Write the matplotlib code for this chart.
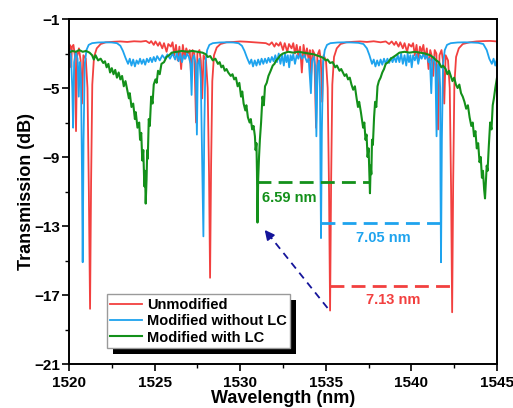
import numpy as np
import matplotlib
matplotlib.use("Agg")
import matplotlib.pyplot as plt
from matplotlib.patches import Rectangle

plt.rcParams['font.family'] = ['Liberation Sans', 'DejaVu Sans']
plt.rcParams['font.weight'] = 'bold'

# --- data (wavelength nm, transmission dB) ---
unmod_pts = [
    (1520.00, -2.8), (1520.05, -2.5), (1520.10, -2.7), (1520.13, -3.8), (1520.17, -2.6),
    (1520.26, -2.5), (1520.34, -3.1), (1520.41, -7.5), (1520.47, -3.2), (1520.58, -2.7),
    (1520.68, -3.4), (1520.76, -5.9), (1520.84, -3.1), (1520.98, -3.3), (1521.08, -5.0),
    (1521.16, -11.0), (1521.23, -17.8), (1521.29, -10.5), (1521.36, -4.8), (1521.46, -3.2),
    (1521.62, -2.7), (1521.85, -2.45), (1522.15, -2.35), (1522.6, -2.32), (1523.0, -2.30),
    (1523.4, -2.33), (1523.8, -2.29), (1524.2, -2.31), (1524.5, -2.27), (1524.7, -2.4),
    (1524.8, -2.28), (1524.95, -2.5), (1525.05, -2.3), (1525.2, -2.55), (1525.3, -2.35),
    (1525.45, -2.7), (1525.55, -2.4), (1525.7, -2.9), (1525.8, -2.45), (1525.95, -2.6),
    (1526.05, -2.35), (1526.15, -3.1), (1526.25, -2.5), (1526.35, -3.4), (1526.45, -2.6),
    (1526.55, -3.9), (1526.65, -2.5), (1526.75, -3.3), (1526.85, -2.7), (1526.95, -3.0),
    (1527.05, -2.8), (1527.13, -4.2), (1527.22, -2.8), (1527.32, -3.0), (1527.42, -7.0),
    (1527.50, -3.0), (1527.62, -2.8), (1527.70, -3.4), (1527.78, -5.6), (1527.86, -3.1),
    (1528.00, -3.4), (1528.10, -5.0), (1528.18, -10.0), (1528.24, -16.0), (1528.30, -9.5),
    (1528.37, -4.6), (1528.47, -3.1), (1528.63, -2.65), (1528.85, -2.45), (1529.2, -2.35),
    (1529.6, -2.33), (1530.0, -2.30), (1530.4, -2.32), (1530.8, -2.35), (1531.2, -2.38),
    (1531.5, -2.4), (1531.7, -2.5), (1531.85, -2.35), (1532.0, -2.6), (1532.1, -2.4),
    (1532.25, -2.55), (1532.35, -2.35), (1532.5, -2.8), (1532.6, -2.4), (1532.75, -2.9),
    (1532.85, -2.45), (1533.0, -2.7), (1533.1, -2.4), (1533.2, -3.0), (1533.3, -2.5),
    (1533.4, -3.2), (1533.5, -2.6), (1533.6, -4.1), (1533.7, -2.5), (1533.8, -3.2),
    (1533.9, -2.7), (1534.0, -3.4), (1534.07, -2.8), (1534.14, -4.3), (1534.23, -2.8),
    (1534.33, -3.0), (1534.43, -7.3), (1534.51, -3.1), (1534.63, -2.8), (1534.71, -3.4),
    (1534.79, -5.8), (1534.87, -3.1), (1535.01, -3.4), (1535.11, -5.0), (1535.19, -11.0),
    (1535.25, -17.9), (1535.31, -10.5), (1535.38, -4.8), (1535.48, -3.2), (1535.64, -2.7),
    (1535.86, -2.45), (1536.2, -2.35), (1536.6, -2.32), (1537.0, -2.30), (1537.4, -2.33),
    (1537.8, -2.29), (1538.2, -2.35), (1538.5, -2.3), (1538.7, -2.45), (1538.85, -2.3),
    (1539.0, -2.5), (1539.1, -2.32), (1539.25, -2.6), (1539.35, -2.35), (1539.5, -2.7),
    (1539.6, -2.4), (1539.75, -2.9), (1539.85, -2.45), (1540.0, -2.6), (1540.1, -2.4),
    (1540.2, -3.1), (1540.3, -2.5), (1540.4, -3.4), (1540.5, -2.6), (1540.6, -2.9),
    (1540.7, -2.5), (1540.8, -3.3), (1540.9, -2.7), (1541.0, -3.9), (1541.1, -2.8),
    (1541.18, -3.1), (1541.27, -4.3), (1541.36, -2.8), (1541.46, -3.0), (1541.56, -7.4),
    (1541.64, -3.1), (1541.76, -2.8), (1541.84, -3.4), (1541.92, -5.9), (1542.0, -3.1),
    (1542.14, -3.4), (1542.24, -5.0), (1542.32, -11.0), (1542.38, -18.0), (1542.44, -10.5),
    (1542.51, -4.8), (1542.61, -3.2), (1542.77, -2.7), (1543.0, -2.45), (1543.4, -2.35),
    (1543.8, -2.3), (1544.2, -2.28), (1544.6, -2.27), (1545.0, -2.3),
]

no_lc_pts = [
    (1520.00, -2.9), (1520.06, -2.8), (1520.12, -3.2), (1520.19, -5.0), (1520.24, -7.3),
    (1520.30, -3.5), (1520.40, -2.9), (1520.50, -3.3), (1520.57, -5.5), (1520.63, -3.5),
    (1520.70, -4.5), (1520.76, -10.0), (1520.80, -15.1), (1520.85, -8.0), (1520.92, -3.6),
    (1521.02, -2.8), (1521.15, -2.5), (1521.35, -2.4), (1521.7, -2.36), (1522.1, -2.35),
    (1522.5, -2.36), (1522.8, -2.4), (1523.0, -2.55), (1523.15, -2.85), (1523.3, -3.25),
    (1523.45, -3.6), (1523.55, -3.3), (1523.65, -3.7), (1523.75, -3.35), (1523.85, -3.75),
    (1523.95, -3.4), (1524.05, -3.6), (1524.15, -3.3), (1524.25, -3.6), (1524.35, -3.35),
    (1524.45, -3.65), (1524.55, -3.3), (1524.65, -3.5), (1524.75, -3.25), (1524.85, -3.5),
    (1524.95, -3.2), (1525.05, -3.45), (1525.15, -3.15), (1525.3, -3.4), (1525.45, -3.1),
    (1525.6, -3.3), (1525.75, -3.05), (1525.9, -3.3), (1526.05, -3.0), (1526.2, -3.35),
    (1526.3, -2.95), (1526.4, -3.45), (1526.5, -3.0), (1526.6, -3.5), (1526.7, -3.1),
    (1526.8, -3.3), (1526.9, -3.0), (1527.0, -3.2), (1527.1, -3.6), (1527.16, -5.4),
    (1527.22, -3.3), (1527.30, -3.1), (1527.40, -3.6), (1527.47, -7.7), (1527.53, -3.6),
    (1527.62, -3.3), (1527.70, -4.5), (1527.78, -9.5), (1527.85, -13.6), (1527.90, -7.5),
    (1527.97, -3.5), (1528.07, -2.8), (1528.2, -2.5), (1528.4, -2.4), (1528.8, -2.36),
    (1529.2, -2.35), (1529.6, -2.36), (1529.9, -2.4), (1530.1, -2.55), (1530.25, -2.85),
    (1530.4, -3.25), (1530.55, -3.6), (1530.65, -3.35), (1530.75, -3.75), (1530.85, -3.4),
    (1530.95, -3.7), (1531.05, -3.35), (1531.15, -3.65), (1531.25, -3.3), (1531.35, -3.6),
    (1531.45, -3.3), (1531.55, -3.55), (1531.65, -3.25), (1531.75, -3.5), (1531.85, -3.2),
    (1531.95, -3.45), (1532.05, -3.1), (1532.15, -3.5), (1532.25, -3.0), (1532.35, -3.6),
    (1532.45, -3.1), (1532.55, -3.7), (1532.62, -3.0), (1532.7, -3.5), (1532.78, -3.1),
    (1532.86, -3.8), (1532.94, -3.1), (1533.02, -3.4), (1533.1, -3.05), (1533.2, -3.6),
    (1533.3, -3.1), (1533.4, -3.3), (1533.5, -3.0), (1533.6, -3.3), (1533.75, -3.1),
    (1533.9, -3.5), (1534.0, -3.3), (1534.13, -5.3), (1534.2, -3.4), (1534.3, -3.2),
    (1534.38, -3.7), (1534.45, -7.8), (1534.52, -3.7), (1534.6, -3.4), (1534.66, -5.0),
    (1534.69, -10.0), (1534.72, -13.7), (1534.77, -7.5), (1534.84, -3.5), (1534.94, -2.8),
    (1535.07, -2.5), (1535.27, -2.4), (1535.7, -2.36), (1536.1, -2.35), (1536.5, -2.36),
    (1536.9, -2.38), (1537.2, -2.45), (1537.4, -2.7), (1537.55, -3.1), (1537.7, -3.6),
    (1537.8, -3.35), (1537.9, -3.75), (1538.0, -3.4), (1538.1, -3.7), (1538.2, -3.35),
    (1538.3, -3.65), (1538.4, -3.3), (1538.5, -3.6), (1538.6, -3.3), (1538.7, -3.55),
    (1538.8, -3.25), (1538.9, -3.5), (1539.0, -3.2), (1539.1, -3.5), (1539.2, -3.1),
    (1539.3, -3.5), (1539.4, -3.0), (1539.5, -3.6), (1539.6, -3.1), (1539.7, -3.7),
    (1539.78, -3.0), (1539.86, -3.5), (1539.94, -3.1), (1540.02, -3.8), (1540.1, -3.1),
    (1540.2, -3.4), (1540.3, -3.05), (1540.4, -3.6), (1540.5, -3.1), (1540.6, -3.3),
    (1540.7, -3.0), (1540.8, -3.3), (1540.9, -3.1), (1541.0, -3.5), (1541.08, -3.3),
    (1541.16, -5.3), (1541.23, -3.4), (1541.32, -3.2), (1541.4, -3.7), (1541.47, -7.8),
    (1541.54, -3.7), (1541.62, -3.5), (1541.68, -5.0), (1541.70, -10.5), (1541.73, -15.1),
    (1541.78, -8.0), (1541.85, -3.6), (1541.95, -2.8), (1542.08, -2.5), (1542.3, -2.4),
    (1542.7, -2.36), (1543.1, -2.35), (1543.5, -2.36), (1543.9, -2.38), (1544.2, -2.45),
    (1544.4, -2.8), (1544.55, -3.3), (1544.7, -3.6), (1544.8, -3.3), (1544.9, -3.7),
    (1545.0, -3.3),
]

with_lc_pts = [
    (1520.0, -2.95), (1520.2, -2.85), (1520.4, -2.9), (1520.6, -2.8), (1520.8, -2.9),
    (1521.0, -2.85), (1521.2, -2.95), (1521.35, -3.1), (1521.45, -3.35), (1521.55, -3.1),
    (1521.7, -3.4), (1521.85, -3.3), (1522.0, -3.55), (1522.1, -3.45), (1522.2, -3.8),
    (1522.3, -3.6), (1522.4, -4.1), (1522.5, -3.85), (1522.6, -4.2), (1522.7, -3.95),
    (1522.8, -4.4), (1522.9, -4.1), (1523.0, -4.5), (1523.1, -4.3), (1523.2, -4.9),
    (1523.3, -4.6), (1523.4, -5.1), (1523.5, -5.6), (1523.55, -5.3), (1523.65, -6.1),
    (1523.75, -5.9), (1523.85, -6.8), (1523.9, -6.4), (1524.0, -7.3), (1524.1, -7.0),
    (1524.15, -8.0), (1524.22, -7.6), (1524.28, -9.2), (1524.34, -8.6), (1524.4, -10.7),
    (1524.44, -9.8), (1524.48, -11.7), (1524.53, -10.3), (1524.57, -8.6), (1524.6, -9.1),
    (1524.66, -6.8), (1524.72, -7.2), (1524.8, -5.5), (1524.88, -5.9), (1524.95, -4.8),
    (1525.05, -4.5), (1525.12, -4.7), (1525.2, -4.0), (1525.3, -4.2), (1525.4, -3.6),
    (1525.55, -3.5), (1525.7, -3.2), (1525.85, -3.1), (1526.0, -2.95), (1526.3, -2.9),
    (1526.6, -2.85), (1526.9, -2.9), (1527.2, -2.85), (1527.5, -2.9), (1527.8, -2.95),
    (1528.0, -3.05), (1528.1, -3.2), (1528.25, -3.15), (1528.4, -3.4), (1528.55, -3.3),
    (1528.7, -3.6), (1528.8, -3.5), (1528.9, -3.8), (1529.0, -3.7), (1529.1, -4.0),
    (1529.2, -3.9), (1529.3, -4.1), (1529.45, -4.3), (1529.55, -4.2), (1529.65, -4.5),
    (1529.75, -4.4), (1529.85, -4.9), (1529.95, -4.7), (1530.05, -5.5), (1530.12, -5.2),
    (1530.2, -5.9), (1530.3, -6.3), (1530.36, -6.0), (1530.45, -6.7), (1530.55, -7.0),
    (1530.62, -6.8), (1530.7, -7.4), (1530.78, -7.2), (1530.86, -7.8), (1530.9, -8.6),
    (1530.95, -8.2), (1530.98, -9.9), (1531.01, -12.8), (1531.05, -10.3), (1531.1, -9.0),
    (1531.15, -8.0), (1531.22, -7.0), (1531.3, -5.5), (1531.38, -6.0), (1531.45, -4.9),
    (1531.55, -4.7), (1531.65, -4.3), (1531.78, -4.0), (1531.9, -3.7), (1532.0, -3.6),
    (1532.1, -3.4), (1532.2, -3.3), (1532.35, -3.1), (1532.5, -3.0), (1532.8, -2.9),
    (1533.1, -2.95), (1533.4, -2.9), (1533.7, -2.95), (1534.0, -3.0), (1534.3, -3.05),
    (1534.6, -3.15), (1534.85, -3.25), (1535.0, -3.4), (1535.1, -3.35), (1535.25, -3.55),
    (1535.4, -3.5), (1535.55, -3.8), (1535.65, -3.7), (1535.8, -4.0), (1535.9, -3.9),
    (1536.0, -4.1), (1536.1, -4.3), (1536.2, -4.2), (1536.3, -4.5), (1536.4, -4.4),
    (1536.5, -4.8), (1536.6, -5.1), (1536.7, -4.9), (1536.8, -5.6), (1536.88, -6.1),
    (1536.95, -5.8), (1537.05, -6.4), (1537.12, -6.9), (1537.18, -7.3), (1537.25, -7.0),
    (1537.32, -8.0), (1537.38, -7.7), (1537.44, -9.0), (1537.5, -8.5), (1537.55, -10.2),
    (1537.58, -11.1), (1537.62, -9.5), (1537.66, -10.0), (1537.7, -8.0), (1537.75, -8.3),
    (1537.82, -6.7), (1537.88, -5.8), (1537.95, -6.1), (1538.02, -4.9), (1538.1, -4.6),
    (1538.2, -4.4), (1538.3, -4.1), (1538.4, -3.9), (1538.5, -3.6), (1538.65, -3.5),
    (1538.8, -3.3), (1538.95, -3.2), (1539.1, -3.1), (1539.3, -2.95), (1539.6, -2.9),
    (1539.9, -2.95), (1540.2, -2.9), (1540.5, -2.95), (1540.8, -3.0), (1541.1, -3.1),
    (1541.3, -3.25), (1541.45, -3.4), (1541.6, -3.5), (1541.75, -3.8), (1541.85, -3.7),
    (1542.0, -3.9), (1542.1, -4.2), (1542.2, -4.0), (1542.3, -4.3), (1542.4, -4.6),
    (1542.5, -4.4), (1542.6, -4.8), (1542.7, -5.0), (1542.8, -4.8), (1542.9, -5.3),
    (1543.0, -5.5), (1543.1, -5.8), (1543.2, -6.2), (1543.3, -6.0), (1543.4, -6.7),
    (1543.5, -7.2), (1543.58, -7.0), (1543.66, -7.8), (1543.74, -7.5), (1543.82, -8.5),
    (1543.9, -8.2), (1543.98, -9.3), (1544.05, -9.0), (1544.12, -10.2), (1544.18, -9.8),
    (1544.25, -10.9), (1544.3, -11.4), (1544.35, -10.4), (1544.4, -9.5), (1544.45, -9.8),
    (1544.52, -8.4), (1544.6, -7.0), (1544.68, -7.4), (1544.75, -6.0), (1544.82, -5.6),
    (1544.9, -5.0), (1545.0, -4.4),
]

labels = ["Unmodified", "Modified without LC", "Modified with LC"]
colors = ["#f2403f", "#1ea3ee", "#13901a"]

# FSR markers: (start, end, level, text)
fsr_green = (1531.01, 1537.60, -10.45, "6.59 nm")
fsr_blue = (1534.72, 1541.77, -12.83, "7.05 nm")
fsr_red = (1535.25, 1542.38, -16.5, "7.13 nm")

fig = plt.figure(figsize=(5.13, 4.08), dpi=100)
ax = fig.add_axes([0.1345, 0.1078, 0.8343, 0.8456])

for pts, lab, col, lw in zip([unmod_pts, no_lc_pts, with_lc_pts], labels, colors, [1.3, 1.3, 1.5]):
    wl, db = np.array(pts).T
    ax.plot(wl, db, color=col, lw=lw, label=lab)

dash = (0, (5, 2.6))
ax.plot([fsr_green[0], fsr_green[1]], [fsr_green[2]] * 2, color=colors[2], lw=2, ls=dash)
ax.plot([fsr_blue[0], fsr_blue[1]], [fsr_blue[2]] * 2, color=colors[1], lw=2, ls=dash)
ax.plot([fsr_red[0], fsr_red[1]], [fsr_red[2]] * 2, color=colors[0], lw=2, ls=dash)

ax.text(1531.3, -11.35, fsr_green[3], color=colors[2], fontsize=10.5, fontweight='bold',
        ha='left', va='center')
ax.text(1538.35, -13.7, fsr_blue[3], color=colors[1], fontsize=10.5, fontweight='bold',
        ha='center', va='center')
ax.text(1538.95, -17.3, fsr_red[3], color=colors[0], fontsize=10.5, fontweight='bold',
        ha='center', va='center')

# dashed arrow pointing at the LC resonance
ax.plot([1535.1, 1531.75], [-17.75, -13.6], color='#14149a', lw=1.3, ls=(0, (4, 3)))
ax.annotate('', xy=(1531.33, -13.1), xytext=(1531.85, -13.75),
            arrowprops=dict(arrowstyle='-|>', color='#14149a', lw=1.3, mutation_scale=14))

ax.set_xlim(1520, 1545)
ax.set_ylim(-21, -1)
ax.set_xticks([1520, 1525, 1530, 1535, 1540, 1545])
ax.set_xticks(np.arange(1522.5, 1545, 5), minor=True)
ax.set_yticks([-1, -5, -9, -13, -17, -21])
ax.set_yticks([-3, -7, -11, -15, -19], minor=True)
ax.tick_params(which='major', direction='out', length=5, width=1.2, labelsize=11)
ax.tick_params(axis='y', which='major', pad=1.5)
ax.tick_params(which='minor', direction='out', length=3, width=1.0)
for lbl in ax.get_xticklabels() + ax.get_yticklabels():
    lbl.set_fontweight('bold')
for sp in ax.spines.values():
    sp.set_linewidth(1.4)

ax.set_xlabel("Wavelength (nm)", fontsize=13, fontweight='bold', labelpad=0)
ax.set_ylabel("Transmission (dB)", fontsize=13, fontweight='bold', labelpad=-0.5)

leg = ax.legend(loc='lower left', bbox_to_anchor=(0.088, 0.046), fontsize=10.5,
                frameon=True, fancybox=False, edgecolor='#9a9a9a', framealpha=1,
                handlelength=2.2, handletextpad=0.3, labelspacing=0.15,
                borderpad=0.25, borderaxespad=0)
leg.get_frame().set_linewidth(1.0)
for t in leg.get_texts():
    t.set_fontweight('bold')
leg.set_zorder(5)

# black drop shadow behind the legend box
fig.canvas.draw()
bb = leg.get_window_extent().transformed(ax.transAxes.inverted())
off_x = 6 / (ax.bbox.width)
off_y = 6 / (ax.bbox.height)
ax.add_patch(Rectangle((bb.x0 + off_x, bb.y0 - off_y), bb.width, bb.height,
                       transform=ax.transAxes, facecolor='black', edgecolor='none',
                       zorder=4, clip_on=False))

fig.savefig("out.png", dpi=100)
